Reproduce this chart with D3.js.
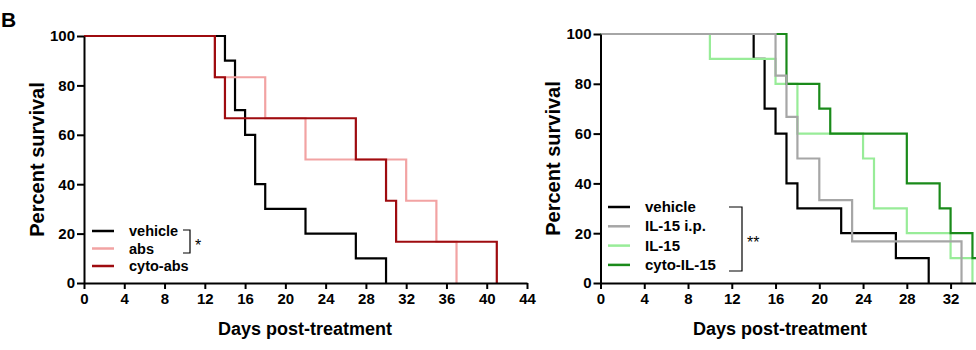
<!DOCTYPE html>
<html>
<head>
<meta charset="utf-8">
<script src="https://cdn.jsdelivr.net/npm/d3@7"></script>
<style>
  body { margin: 0; background: #fff; }
  text { font-family: Arial, "Liberation Sans", sans-serif; font-weight: bold; }
</style>
</head>
<body>
<script>
var w = 976;
var h = 350;

// panel A (left)
var namesA = ["vehicle", "abs", "cyto-abs"];
var colorsA = ["#000000", "#f2a3a3", "#9e0b0f"];
var vehicleA_days = [0, 14, 15, 16, 17, 18, 22, 27, 30];
var vehicleA_surv = [100, 90, 70, 60, 40, 30, 20, 10, 0];
var abs_days = [0, 13, 18, 22, 32, 35, 37];
var abs_surv = [100, 83.3, 66.7, 50, 33.3, 16.7, 0];
var cytoAbs_days = [0, 13, 14, 27, 30, 31, 41];
var cytoAbs_surv = [100, 83.3, 66.7, 50, 33.3, 16.7, 0];
var xTicksA = [0, 4, 8, 12, 16, 20, 24, 28, 32, 36, 40, 44];

// panel B (right)
var namesB = ["vehicle", "IL-15 i.p.", "IL-15", "cyto-IL-15"];
var colorsB = ["#000000", "#a6a6a6", "#98ec98", "#1a8a1a"];
var vehicleB_days = [0, 14, 15, 16, 17, 18, 22, 27, 30];
var vehicleB_surv = [100, 90, 70, 60, 40, 30, 20, 10, 0];
var il15ip_days = [0, 16, 17, 18, 20, 23, 33];
var il15ip_surv = [100, 83.3, 66.7, 50, 33.3, 16.7, 0];
var il15_days = [0, 10, 16, 18, 24, 25, 28, 32, 34];
var il15_surv = [100, 90, 80, 60, 50, 30, 20, 10, 0];
var cytoIL15_days = [0, 17, 20, 21, 28, 31, 32, 34, 35];
var cytoIL15_surv = [100, 80, 70, 60, 40, 30, 20, 10, 10];
var xTicksB = [0, 4, 8, 12, 16, 20, 24, 28, 32];

var yTicks = [0, 20, 40, 60, 80, 100];

function zip(days, surv) {
    return days.map(function(d, i) { return {day: d, surv: surv[i]}; });
}

var svg = d3.select("body")
    .append("svg")
    .attr("width", w)
    .attr("height", h);

svg.append("text")
    .attr("x", 1)
    .attr("y", 27)
    .attr("font-size", 21)
    .text("B");

function panel(opt) {
    var x = d3.scaleLinear().domain(opt.xDomain).range(opt.xRange);
    var y = d3.scaleLinear().domain([0, 100]).range(opt.yRange);

    var g = svg.append("g");

    var line = d3.line()
        .x(function(d) { return x(d.day); })
        .y(function(d) { return y(d.surv); })
        .curve(d3.curveStepAfter);

    // survival curves, drawn in given order
    opt.order.forEach(function(i) {
        g.append("path")
            .datum(opt.series[i])
            .attr("fill", "none")
            .attr("stroke", opt.colors[i])
            .attr("stroke-width", 2.2)
            .attr("d", line);
    });

    var xAxis = g.append("g")
        .attr("transform", "translate(0," + opt.yRange[0] + ")")
        .call(d3.axisBottom(x).tickValues(opt.xTicks).tickSize(6).tickPadding(4).tickSizeOuter(0));
    var yAxis = g.append("g")
        .attr("transform", "translate(" + opt.xRange[0] + ",0)")
        .call(d3.axisLeft(y).tickValues(yTicks).tickSize(7).tickPadding(2).tickSizeOuter(0));

    [xAxis, yAxis].forEach(function(a) {
        a.selectAll("path, line").attr("stroke", "#000").attr("stroke-width", 2);
        a.selectAll("text").attr("font-size", 15).attr("fill", "#000")
            .style("font-family", "Arial, 'Liberation Sans', sans-serif").style("font-weight", "bold");
    });

    g.append("text")
        .attr("transform", "translate(" + opt.yTitleX + "," + ((opt.yRange[0] + opt.yRange[1]) / 2) + ") rotate(-90)")
        .attr("text-anchor", "middle")
        .attr("font-size", 20)
        .text("Percent survival");

    g.append("text")
        .attr("x", opt.xTitleX)
        .attr("y", 335)
        .attr("text-anchor", "middle")
        .attr("font-size", 18)
        .text("Days post-treatment");

    // legend
    var lg = g.append("g");
    opt.names.forEach(function(n, i) {
        var ly = opt.legY + i * opt.legStep;
        lg.append("line")
            .attr("x1", opt.legX).attr("x2", opt.legX + 22)
            .attr("y1", ly).attr("y2", ly)
            .attr("stroke", opt.colors[i])
            .attr("stroke-width", 2.5);
        lg.append("text")
            .attr("x", opt.legX + 37)
            .attr("y", ly + 5)
            .attr("font-size", opt.legFont)
            .text(n);
    });

    // significance bracket
    var b = opt.bracket;
    lg.append("path")
        .attr("d", "M" + b.x0 + "," + b.y0 + "H" + b.x1 + "V" + b.y1 + "H" + b.x0)
        .attr("fill", "none")
        .attr("stroke", "#000")
        .attr("stroke-width", 1.2);
    lg.append("text")
        .attr("x", b.x1 + 5)
        .attr("y", (b.y0 + b.y1) / 2 + 9)
        .attr("font-size", 16)
        .style("font-weight", "normal")
        .text(b.label);
}

panel({
    xDomain: [0, 44], xRange: [84, 527], yRange: [283, 36],
    xTicks: xTicksA,
    series: [zip(vehicleA_days, vehicleA_surv), zip(abs_days, abs_surv), zip(cytoAbs_days, cytoAbs_surv)],
    colors: colorsA, names: namesA, order: [0, 1, 2],
    yTitleX: 44, xTitleX: 305,
    legX: 92, legY: 231, legStep: 17.5, legFont: 14.5,
    bracket: {x0: 183, x1: 190, y0: 230, y1: 253, label: "*"}
});

panel({
    xDomain: [0, 35], xRange: [600.5, 983.4], yRange: [283, 34],
    xTicks: xTicksB,
    series: [zip(vehicleB_days, vehicleB_surv), zip(il15ip_days, il15ip_surv), zip(il15_days, il15_surv), zip(cytoIL15_days, cytoIL15_surv)],
    colors: colorsB, names: namesB, order: [0, 2, 3, 1],
    yTitleX: 560, xTitleX: 780,
    legX: 608, legY: 207, legStep: 19.3, legFont: 15,
    bracket: {x0: 729, x1: 742, y0: 207, y1: 271, label: "**"}
});
</script>
</body>
</html>
